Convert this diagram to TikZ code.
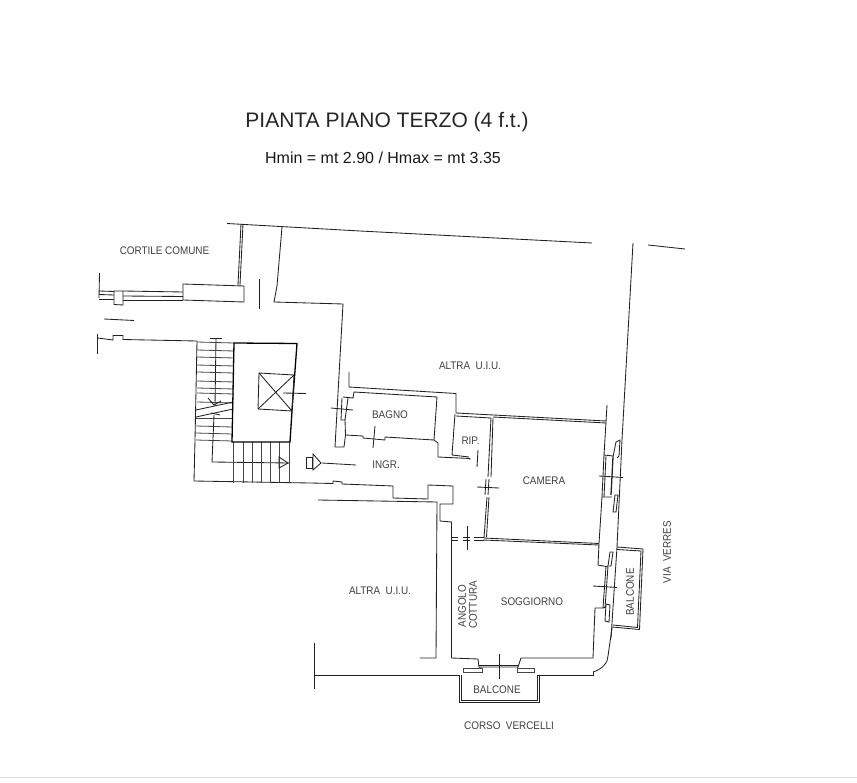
\documentclass[tikz,border=0pt]{standalone}
\usepackage{fontspec}
\setmainfont{Liberation Sans}
\definecolor{wallc}{HTML}{222222}
\definecolor{softc}{HTML}{444444}
\newcommand{\lbltext}[1]{\scalebox{0.9}[1]{#1}}
\tikzset{
  x=1pt,y=-1pt,
  wall/.style={draw=wallc,line width=0.85pt,line join=miter},
  thin wall/.style={draw=softc,line width=0.8pt},
  fine/.style={draw=softc,line width=0.6pt},
  heavy/.style={draw=black,line width=1.3pt},
  title/.style={inner sep=0pt,text=black!85,font=\fontsize{21}{24}\selectfont},
  sub/.style={inner sep=0pt,text=black!90,font=\fontsize{16}{19}\selectfont},
  lab/.style={inner sep=0pt,text=black!75,font=\fontsize{11}{13}\selectfont},
}
\begin{document}
\begin{tikzpicture}
\useasboundingbox (0,0) rectangle (857,783);
\fill[white] (0,0) rectangle (857,783);
\draw[draw=black!15,line width=1pt] (0,777.5) -- (857,777.5);

% Texts
\node[title] (t1) at (387,122.5) {PIANTA PIANO TERZO (4 f.t.)};
\node[sub] (t2) at (383,157.5) {Hmin = mt 2.90 / Hmax = mt 3.35};
\node[lab] (l1) at (164.5,251) {\lbltext{CORTILE COMUNE}};
\node[lab] (l2) at (470,366) {\lbltext{ALTRA\ \ U.I.U.}};
\node[lab] (l3) at (390,415) {\lbltext{BAGNO}};
\node[lab] (l4) at (470.5,441) {\lbltext{RIP.}};
\node[lab] (l5) at (386,465) {\lbltext{INGR.}};
\node[lab] (l6) at (544,481) {\lbltext{CAMERA}};
\node[lab] (l7) at (380,591) {\lbltext{ALTRA\ \ U.I.U.}};
\node[lab] (l8) at (532,602) {\lbltext{SOGGIORNO}};
\node[lab,rotate=90] (l9) at (462,606) {\lbltext{ANGOLO}};
\node[lab,rotate=90] (l10) at (473,605) {\lbltext{COTTURA}};
\node[lab,rotate=90] (l11) at (630,592) {\lbltext{BALCONE}};
\node[lab,rotate=90] (l12) at (667,552) {\lbltext{VIA\ \ VERRES}};
\node[lab] (l13) at (497,690) {\lbltext{BALCONE}};
\node[lab] (l14) at (509,726) {\lbltext{CORSO\ \ VERCELLI}};

% Upper boundary and courtyard passage
\draw[wall] (227,223.5) -- (360,231) -- (592,243);
\draw[wall] (648,245) -- (685,249);
\draw[wall] (241,224) -- (238,285);
\draw[wall] (243,224) -- (240,285);
\draw[wall] (282,227) -- (277,286) -- (274,302) -- (343,304) -- (335,447) -- (344,447) -- (345.5,435);
\draw[wall] (183,284) -- (244,286) -- (244,302) -- (183,300) -- cycle;
\draw[wall] (259,279) -- (259,309);
\draw[wall] (99.5,273) -- (99,298);
\draw[wall] (99,291) -- (114,291.5);
\draw[wall] (123,291) -- (183,292);
\draw[wall] (99,294.5) -- (114,295);
\draw[wall] (123,296) -- (183,296.5);
\draw[wall] (99,299) -- (114,299);
\draw[wall] (123,300) -- (183,300);
\draw[wall] (114,291) -- (123,291) -- (123,305) -- (114,304.5) -- cycle;
\draw[wall] (104,319) -- (134,320.5);
\draw[wall] (97.5,334) -- (97.5,354);
\draw[wall] (97.5,338) -- (113,340) -- (113,335.5) -- (123,335.5) -- (123,339.5) -- (197,341);
\draw[wall] (210,338.5) -- (222,338.5);

% Stairs
\draw[wall] (197,341) -- (195,440) -- (194,481) -- (310,483) -- (333,483.5) -- (333,481) -- (342,482) -- (342,484) -- (393,486) -- (393,498) -- (428,499) -- (428,485) -- (453,486) -- (453,504) -- (440,504) -- (440,521) -- (451.5,522) -- (451.5,658) -- (478,659) -- (479,667);
\draw[wall] (216,338.5) -- (215,406);
\foreach \ya/\yb in {342/343,350/351,357/358,365/366,372/373,381/382,388/389,393/394,402/403}{
  \draw[thin wall] (197,\ya) -- (234,\yb);
}
\draw[wall] (196,410) -- (233,402);
\draw[wall] (196,417) -- (233,409);
\foreach \ya/\yb in {418/418,426/427,433/434,440/441}{
  \draw[thin wall] (196,\ya) -- (232,\yb);
}
\draw[wall] (214,415) -- (212,462) -- (289,463);
\foreach \xs in {233,243,252,261,270,279,289}{
  \draw[thin wall] (\xs,442) -- (\xs,483);
}
\draw[wall] (208,398) -- (214,405) -- (221,401);
\draw[wall] (211,413) -- (220,415);
\draw[wall] (279,457) -- (288,463) -- (279,468) -- cycle;

% Lift block
\draw[heavy] (234,343) -- (297,343.5) -- (292,411) -- (290,442) -- (232,442) -- cycle;
\draw[wall] (259,373) -- (294,375) -- (292,411) -- (258,409) -- cycle;
\draw[wall] (259,373) -- (292,411);
\draw[wall] (294,375) -- (258,409);
\draw[wall] (283,393) -- (306,393.5);

% Entrance arrow
\draw[wall] (306,457) rectangle (312,468);
\draw[wall] (313,454) -- (321,463) -- (313,470) -- cycle;
\draw[wall] (322,463) -- (356,465);

% Bagno
\draw[wall] (349,372) -- (349,387) -- (456,393.5) -- (456,413);
\draw[wall] (343,397) -- (353,398) -- (354,392) -- (437,397) -- (434,440);
\draw[wall] (342,398) -- (341,420) -- (345,420) -- (348,398);
\draw[wall] (345,420) -- (345.5,435) -- (363,436) -- (363,438) -- (385,440) -- (385,437) -- (434,440) -- (438,443) -- (438,457) -- (470,458.5) -- (470,460);
\draw[wall] (331,408) -- (353,410);
\draw[wall] (375,426) -- (373,448);

% RIP
\draw[wall] (456,413) -- (606,421);
\draw[wall] (456,416) -- (491,418);
\draw[wall] (455,414) -- (452,455) -- (469,457);
\draw[wall] (478,450) -- (477,467);

% Camera walls
\draw[wall] (491,418) -- (488,477);
\draw[wall] (493,418) -- (491,477);
\draw[wall] (493,417) -- (606,423);
\draw[wall] (477,487) -- (499,488);
\draw[wall] (486,479) -- (485,495);
\draw[wall] (489,479) -- (488,495);
\draw[wall] (487,497) -- (484,538);
\draw[wall] (489,497) -- (486.5,537);
\draw[wall] (484,538) -- (599,543.5);
\draw[wall] (483,540) -- (599,545);
\draw[wall] (452,537) -- (458,537);
\draw[wall] (452,540) -- (458,540);
\draw[wall] (463,537) -- (470,537);
\draw[wall] (463,540) -- (470,540);
\draw[wall] (474,537) -- (484,537);
\draw[wall] (474,540) -- (484,540);
\draw[wall] (467,526) -- (467,550);

% Right facade
\draw[wall] (633,243) -- (622,440) -- (617,547) -- (611,638);
\draw[wall] (607,405) -- (606,422) -- (604,455) -- (613,456);
\draw[wall] (606,456) -- (604,497);
\draw[wall] (604,455) -- (602,497) -- (612,497);
\draw[wall] (602,497) -- (599,543.5);
\draw[wall] (616,442) -- (620,440) -- (619,456) -- (617,458);
\draw[wall] (616,442) -- (613,457);
\draw[wall,line width=1.3pt] (613,457) -- (611,495);
\draw[wall] (615,495) -- (613,512) -- (616,512) -- (618,495) -- cycle;
\draw[wall] (599,476) -- (623,477.5);

% Soggiorno right side
\draw[wall] (599,544) -- (598,565) -- (606,566.5) -- (603,608) -- (595,608) -- (593,658);
\draw[wall] (610,552) -- (613,552) -- (611,566) -- (609,566);
\draw[wall] (610,552) -- (608,566);
\draw[wall] (606,566.5) -- (608,566);
\draw[wall] (608,566) -- (605,608);
\draw[wall] (603,608) -- (606,607);
\draw[wall] (606,604) -- (605,621) -- (609,622) -- (610,605) -- cycle;
\draw[wall] (593,586) -- (617,587.5);

% Right balcony
\draw[wall] (617,547) -- (643,549) -- (639.5,629.5) -- (612,627);
\draw[wall] (617,549.5) -- (641,551) -- (637.5,627.5) -- (613,625);

% Lower walls
\draw[wall] (318,500) -- (437,502) -- (436,658) -- (420,658);
\draw[wall] (314,643) -- (314,689);
\draw[wall] (314,675) -- (459,675);
\draw[wall] (538,675) -- (593,675) -- (593,672);
\draw[wall] (593,672) .. controls (603,669) and (608,662) .. (608,656) -- (612,628);
\draw[wall] (479,667) -- (518,667) -- (521,658) -- (593,658);
\draw[wall] (479,665) -- (518,665);
\draw[fine] (479,667) -- (482,668.5);
\draw[fine] (518,667) -- (517,668.5);
\draw[fine] (463,668.5) rectangle (482,672.5);
\draw[fine] (517,668.5) rectangle (534,672.5);
\draw[wall] (499,654) -- (499,679);

% Bottom balcony
\draw[wall] (459,675) -- (459,702) -- (539,702) -- (539,675);
\draw[wall] (461,675) -- (461,700) -- (537,700) -- (537,675);
\end{tikzpicture}
\end{document}
